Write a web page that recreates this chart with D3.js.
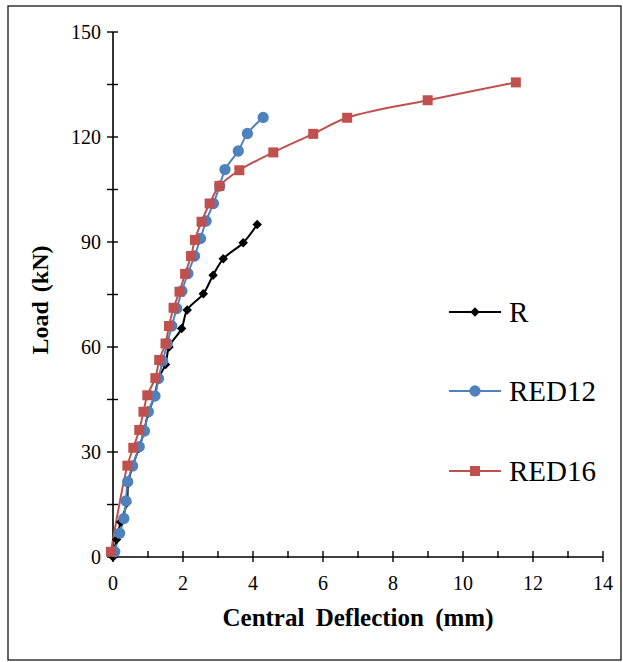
<!DOCTYPE html>
<html><head><meta charset="utf-8">
<script src="https://cdn.jsdelivr.net/npm/d3@7"></script>
<style>
html,body{margin:0;padding:0;background:#fff;}
svg{display:block;font-family:"Liberation Serif","Times New Roman",serif;}
</style></head>
<body>
<svg id="chart" width="623" height="662"></svg>
<script>
// ---- data (deflection mm, load kN) ----
const seriesNames = ["R", "RED12", "RED16"];
const rDefl = [0, 0.1, 0.22, 0.4, 0.43, 0.56, 0.74, 0.89, 1.0, 1.19, 1.3, 1.5, 1.6, 1.96, 2.12, 2.58, 2.86, 3.15, 3.72, 4.12];
const rLoad = [0, 5, 10, 15.5, 21, 26, 31, 36, 41, 46, 51, 55, 60, 65.3, 70.6, 75.2, 80.5, 85.2, 89.8, 95];
const red12Defl = [0.05, 0.19, 0.31, 0.37, 0.42, 0.56, 0.75, 0.9, 1.01, 1.2, 1.3, 1.42, 1.55, 1.68, 1.82, 1.97, 2.14, 2.33, 2.5, 2.66, 2.87, 3.05, 3.2, 3.58, 3.84, 4.29];
const red12Load = [1.5, 6.8, 11, 16, 21.5, 26, 31.5, 36, 41.5, 46, 51, 56, 61, 66, 71, 76, 81, 86, 91, 96, 101, 106, 110.7, 116, 121, 125.6];
const red16Defl = [-0.06, 0.41, 0.58, 0.75, 0.87, 0.98, 1.21, 1.32, 1.5, 1.6, 1.73, 1.9, 2.06, 2.23, 2.34, 2.53, 2.76, 3.04, 3.61, 4.58, 5.72, 6.69, 8.99, 11.51];
const red16Load = [1.5, 26.1, 31.2, 36.3, 41.5, 46.2, 51.1, 56.3, 61, 66, 71.2, 75.8, 80.9, 86, 90.6, 95.8, 101, 106, 110.5, 115.6, 120.9, 125.5, 130.5, 135.6];
const xTicks = [0, 2, 4, 6, 8, 10, 12, 14];
const yTicks = [0, 30, 60, 90, 120, 150];
const xTitle = "Central Deflection (mm)";
const yTitle = "Load (kN)";

const colors = {R: "#000000", RED12: "#4F81BD", RED16: "#C0504D"};
const symbols = {R: d3.symbolSquare, RED12: d3.symbolCircle, RED16: d3.symbolSquare};
const symSize = {R: 45, RED12: 100, RED16: 100};
const symRot = {R: 45, RED12: 0, RED16: 0};

const series = [
  {name: "R", pts: rDefl.map((d, i) => [d, rLoad[i]])},
  {name: "RED12", pts: red12Defl.map((d, i) => [d, red12Load[i]])},
  {name: "RED16", pts: red16Defl.map((d, i) => [d, red16Load[i]])}
];

const svg = d3.select("#chart");
svg.append("rect").attr("x", 8).attr("y", 6).attr("width", 613).attr("height", 654)
  .attr("fill", "none").attr("stroke", "#000").attr("stroke-width", 1.2);

const x = d3.scaleLinear().domain([0, 14]).range([113, 603]);
const y = d3.scaleLinear().domain([0, 150]).range([557, 32]);

// y axis
const gy = svg.append("g").attr("transform", "translate(113,0)");
gy.append("line").attr("y1", y(0)).attr("y2", y(150)).attr("stroke", "#000").attr("stroke-width", 1.6);
gy.selectAll("line.t").data(d3.range(0, 151, 15)).enter().append("line")
  .attr("x1", -6).attr("x2", 5).attr("y1", d => y(d)).attr("y2", d => y(d))
  .attr("stroke", "#000").attr("stroke-width", 1.4);
gy.selectAll("text").data(yTicks).enter().append("text")
  .attr("x", -12).attr("y", d => y(d)).attr("dy", "0.35em").attr("text-anchor", "end")
  .attr("font-size", 20).text(d => d);

// x axis
const gx = svg.append("g").attr("transform", `translate(0,${y(0)})`);
gx.append("line").attr("x1", x(0)).attr("x2", x(14)).attr("stroke", "#000").attr("stroke-width", 1.6);
gx.selectAll("line.t").data(d3.range(0, 15, 1)).enter().append("line")
  .attr("x1", d => x(d)).attr("x2", d => x(d)).attr("y1", -6).attr("y2", d => d % 2 === 0 ? 5 : 1)
  .attr("stroke", "#000").attr("stroke-width", 1.4);
gx.selectAll("text").data(xTicks).enter().append("text")
  .attr("x", d => x(d)).attr("y", 26).attr("dy", "0.35em").attr("text-anchor", "middle")
  .attr("font-size", 20).text(d => d);

// titles
svg.append("text").attr("x", 358).attr("y", 626).attr("text-anchor", "middle")
  .attr("font-size", 25).attr("font-weight", "bold").attr("word-spacing", 5).text(xTitle);
svg.append("text").attr("transform", "translate(48,300) rotate(-90)").attr("text-anchor", "middle")
  .attr("font-size", 24).attr("font-weight", "bold").attr("word-spacing", 3).text(yTitle);

// lines
const line = d3.line().x(d => x(d[0])).y(d => y(d[1])).curve(d3.curveCatmullRom.alpha(0.5));
const order = ["R", "RED12", "RED16"];
order.forEach(n => {
  const s = series.find(t => t.name === n);
  svg.append("path").datum(s.pts).attr("d", line).attr("fill", "none")
    .attr("stroke", colors[n]).attr("stroke-width", 2);
});
order.forEach(n => {
  const s = series.find(t => t.name === n);
  svg.append("g").selectAll("path").data(s.pts).enter().append("path")
    .attr("transform", d => `translate(${x(d[0])},${y(d[1])}) rotate(${symRot[n]})`)
    .attr("d", d3.symbol().type(symbols[n]).size(symSize[n]))
    .attr("fill", colors[n]);
});

// legend
const legY = [312, 391, 471];
seriesNames.forEach((n, i) => {
  const g = svg.append("g").attr("transform", `translate(0,${legY[i]})`);
  g.append("line").attr("x1", 449).attr("x2", 501).attr("stroke", colors[n]).attr("stroke-width", 2);
  g.append("path").attr("transform", `translate(475,0) rotate(${symRot[n]})`)
    .attr("d", d3.symbol().type(symbols[n]).size(symSize[n])).attr("fill", colors[n]);
  g.append("text").attr("x", 509).attr("y", 0).attr("dy", "0.35em").attr("font-size", 29).text(n);
});
</script>
</body></html>
